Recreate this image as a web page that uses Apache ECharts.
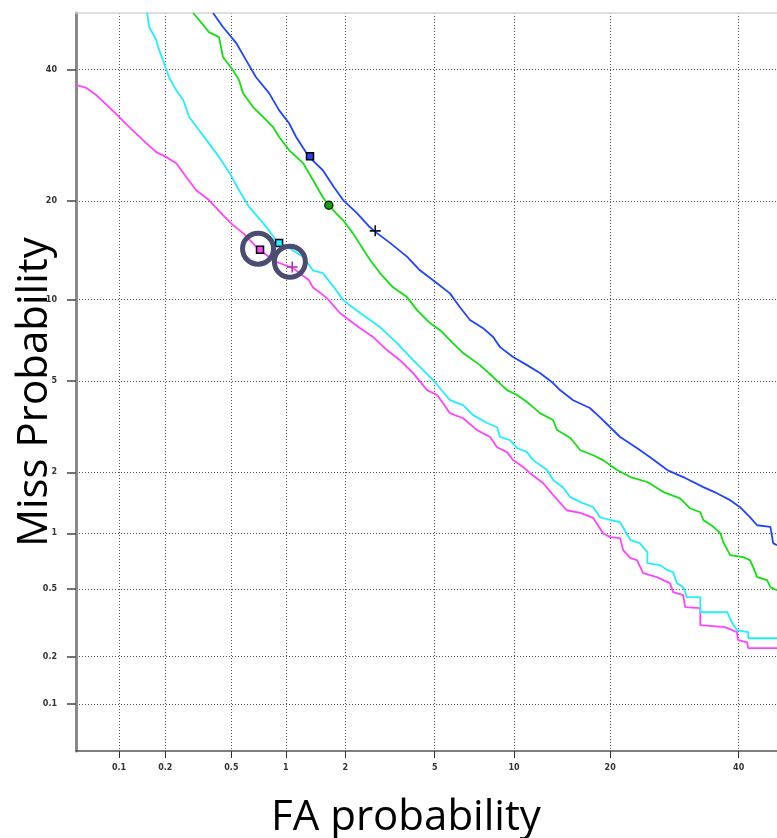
<!DOCTYPE html>
<html><head><meta charset="utf-8">
<script src="https://cdn.jsdelivr.net/npm/echarts@6/dist/echarts.min.js"></script>
<style>html,body{margin:0;padding:0;background:#fff}#c{width:777px;height:838px}</style>
</head><body><div id="c"></div>
<script>
// Tick labels (percent)
const xTicks = [0.1, 0.2, 0.5, 1, 2, 5, 10, 20, 40];
const yTicks = [0.1, 0.2, 0.5, 1, 2, 5, 10, 20, 40];
const xRangePct = [0.0506, 46.9];
const yRangePct = [0.0484, 50];

// Curves: [FA %, Miss %]
const magentaCurve = [[0.0506,37.4],[0.0596,36.9],[0.0699,35.7],[0.0857,33.7],[0.100,32.1],[0.117,30.5],[0.144,28.5],[0.175,26.7],[0.202,26.0],[0.234,25.1],[0.269,23.2],[0.310,21.4],[0.370,20.15],[0.447,18.3],[0.511,17.15],[0.583,16.25],[0.716,14.5],[0.887,13.3],[1.09,12.7],[1.32,11.6],[1.38,11.0],[1.63,10.1],[1.88,8.99],[2.35,7.94],[2.70,7.37],[3.12,6.59],[3.56,6.03],[4.06,5.37],[4.65,4.59],[5.11,4.38],[5.40,4.06],[5.76,3.68],[6.49,3.50],[7.34,3.11],[8.21,2.90],[8.70,2.61],[9.45,2.48],[9.92,2.28],[10.74,2.12],[11.35,1.98],[12.53,1.78],[13.50,1.56],[14.9,1.31],[16.4,1.27],[17.9,1.20],[19.1,1.00],[20.0,0.955],[21.3,0.944],[21.7,0.816],[22.7,0.740],[23.6,0.722],[24.5,0.613],[26.5,0.583],[28.5,0.540],[29.0,0.481],[30.6,0.462],[30.9,0.395],[33.4,0.390],[33.4,0.310],[37.6,0.302],[39.7,0.282],[39.9,0.252],[41.5,0.245],[41.7,0.226],[46.9,0.226]];
const cyanCurve = [[0.153,50.0],[0.158,47.5],[0.175,45.2],[0.183,43.4],[0.196,41.2],[0.211,38.7],[0.234,36.5],[0.258,34.9],[0.281,32.1],[0.323,30.0],[0.370,28.0],[0.424,26.0],[0.486,23.8],[0.553,21.4],[0.630,19.3],[0.753,17.4],[0.887,15.5],[1.23,13.8],[1.38,12.5],[1.55,12.25],[1.76,11.0],[1.95,9.96],[2.35,8.99],[2.90,8.01],[3.46,7.00],[4.06,6.03],[4.93,5.04],[5.76,4.17],[6.49,3.98],[7.09,3.61],[8.00,3.34],[8.70,3.20],[8.92,2.90],[9.68,2.81],[10.24,2.59],[11.08,2.48],[11.61,2.28],[12.92,2.05],[13.50,1.84],[14.5,1.70],[15.3,1.52],[16.7,1.42],[17.9,1.36],[18.7,1.21],[20.0,1.17],[21.3,1.14],[22.7,0.921],[24.0,0.889],[25.1,0.797],[25.1,0.695],[27.0,0.678],[28.1,0.637],[29.0,0.621],[29.6,0.540],[30.6,0.513],[31.2,0.450],[33.4,0.450],[33.4,0.369],[38.0,0.369],[38.9,0.318],[39.7,0.290],[41.7,0.282],[41.7,0.259],[46.9,0.259]];
const greenCurve = [[0.297,50.0],[0.323,48.75],[0.370,46.6],[0.424,45.7],[0.447,42.2],[0.511,39.9],[0.553,38.2],[0.583,36.0],[0.663,33.7],[0.753,32.1],[0.854,30.5],[0.919,29.0],[1.04,27.0],[1.23,25.1],[1.38,22.8],[1.55,20.5],[1.66,19.5],[1.80,18.55],[1.95,17.7],[2.17,16.25],[2.61,13.5],[2.90,12.25],[3.32,11.0],[3.82,10.2],[4.22,9.2],[4.78,8.28],[5.26,7.81],[5.92,7.00],[6.49,6.42],[7.53,5.77],[8.42,5.18],[9.45,4.59],[10.24,4.38],[11.08,4.10],[11.61,3.90],[12.24,3.68],[13.50,3.44],[13.90,3.11],[15.3,2.87],[16.4,2.53],[17.9,2.40],[19.1,2.28],[20.9,2.05],[22.7,1.90],[25.1,1.80],[27.5,1.61],[30.1,1.50],[31.7,1.34],[33.4,1.28],[33.9,1.17],[35.6,1.08],[36.8,1.00],[37.3,0.900],[38.5,0.768],[40.8,0.749],[42.0,0.722],[42.6,0.661],[43.3,0.583],[45.1,0.561],[45.7,0.513],[46.9,0.493]];
const blueCurve = [[0.391,50.0],[0.447,47.5],[0.532,44.7],[0.605,41.7],[0.689,38.7],[0.813,36.0],[0.919,33.2],[1.04,31.1],[1.13,29.0],[1.32,26.0],[1.55,24.1],[1.76,21.8],[1.95,20.15],[2.27,18.55],[2.61,16.9],[2.81,16.25],[3.22,15.2],[3.82,13.8],[4.34,12.5],[5.11,11.35],[5.76,10.5],[6.31,9.42],[6.90,8.49],[7.73,7.94],[8.42,7.37],[8.92,6.76],[9.92,6.20],[11.08,5.77],[12.24,5.37],[13.50,4.90],[14.2,4.59],[15.6,4.17],[17.5,3.87],[18.7,3.54],[20.0,3.20],[21.3,2.90],[23.6,2.59],[25.5,2.35],[28.1,2.05],[30.6,1.90],[33.9,1.70],[36.2,1.59],[38.5,1.47],[40.2,1.36],[42.0,1.21],[43.3,1.10],[45.7,1.08],[46.2,0.889],[46.9,0.867]];

// Operating-point markers [FA %, Miss %]
const blueSquare = [[1.335, 26.1]];
const greenDot = [[1.66, 19.5]];
const blackPlus = [[2.76, 16.5]];
const cyanSquare = [[0.92, 15.2]];
const magentaSquare = [[0.725, 14.5]];
const magentaPlus = [[1.08, 12.8]];
const rings = [[0.707, 14.6], [1.05, 13.3]];

function probit(p) {
  const a=[-3.969683028665376e+01,2.209460984245205e+02,-2.759285104469687e+02,1.383577518672690e+02,-3.066479806614716e+01,2.506628277459239e+00];
  const b=[-5.447609879822406e+01,1.615858368580409e+02,-1.556989798598866e+02,6.680131188771972e+01,-1.328068155288572e+01];
  const c=[-7.784894002430293e-03,-3.223964580411365e-01,-2.400758277161838e+00,-2.549732539343734e+00,4.374664141464968e+00,2.938163982698783e+00];
  const d=[7.784695709041462e-03,3.224671290700398e-01,2.445134137142996e+00,3.754408661907416e+00];
  const pl=0.02425, ph=1-pl;
  let q,r;
  if (p<pl){ q=Math.sqrt(-2*Math.log(p)); return (((((c[0]*q+c[1])*q+c[2])*q+c[3])*q+c[4])*q+c[5])/((((d[0]*q+d[1])*q+d[2])*q+d[3])*q+1); }
  if (p<=ph){ q=p-0.5; r=q*q; return (((((a[0]*r+a[1])*r+a[2])*r+a[3])*r+a[4])*r+a[5])*q/(((((b[0]*r+b[1])*r+b[2])*r+b[3])*r+b[4])*r+1); }
  q=Math.sqrt(-2*Math.log(1-p)); return -(((((c[0]*q+c[1])*q+c[2])*q+c[3])*q+c[4])*q+c[5])/((((d[0]*q+d[1])*q+d[2])*q+d[3])*q+1);
}
const tr = arr => arr.map(([fa, miss]) => [probit(fa/100), probit(miss/100)]);
const xTickZ = xTicks.map(t => probit(t/100));
const yTickZ = yTicks.map(t => probit(t/100));
function labelFor(ticks, zs) {
  return v => { let bi=0, bd=1e9; zs.forEach((z,i)=>{const dd=Math.abs(z-v); if(dd<bd){bd=dd;bi=i;}}); return String(ticks[bi]); };
}
const labelStyle = {fontSize: 8, fontFamily: 'DejaVu Sans', color: '#333', fontWeight: 'bold'};
const gridLine = {show: true, lineStyle: {color: '#555', width: 1, type: [1, 2]}};
const plusPath = 'path://M4.3,0H5.7V4.3H10V5.7H5.7V10H4.3V5.7H0V4.3H4.3Z';

const chart = echarts.init(document.getElementById('c'), null, {renderer: 'canvas'});
chart.setOption({
  animation: false,
  backgroundColor: '#fff',
  grid: {left: 76, right: 0, top: 13, bottom: 87, containLabel: false},
  xAxis: [{
    type: 'value', min: probit(xRangePct[0]/100), max: probit(xRangePct[1]/100),
    axisLine: {show: true, onZero: false, lineStyle: {color: '#555', width: 1.5}},
    axisTick: {show: true, length: 7, customValues: xTickZ, lineStyle: {color: '#333', width: 1}},
    axisLabel: {show: true, customValues: xTickZ, margin: 13, formatter: labelFor(xTicks, xTickZ), ...labelStyle},
    splitLine: gridLine
  }, {
    type: 'value', position: 'top', min: probit(xRangePct[0]/100), max: probit(xRangePct[1]/100),
    axisLine: {show: true, onZero: false, lineStyle: {color: '#d4d4d4', width: 1.5}},
    axisTick: {show: false}, axisLabel: {show: false}, splitLine: {show: false}
  }],
  yAxis: {
    type: 'value', min: probit(yRangePct[0]/100), max: probit(yRangePct[1]/100),
    axisLine: {show: true, onZero: false, lineStyle: {color: '#8a8a8a', width: 3}},
    axisTick: {show: true, length: 9, customValues: yTickZ, lineStyle: {color: '#444', width: 1.5}},
    axisLabel: {show: true, customValues: yTickZ, margin: 19, formatter: labelFor(yTicks, yTickZ), ...labelStyle},
    splitLine: gridLine
  },
  series: [
    {type: 'line', data: tr(magentaCurve), symbol: 'none', lineStyle: {color: '#ff44ff', width: 1.8}, z: 3},
    {type: 'line', data: tr(cyanCurve), symbol: 'none', lineStyle: {color: '#22eeff', width: 1.8}, z: 3},
    {type: 'line', data: tr(greenCurve), symbol: 'none', lineStyle: {color: '#11e011', width: 1.8}, z: 3},
    {type: 'line', data: tr(blueCurve), symbol: 'none', lineStyle: {color: '#1f45ff', width: 1.8}, z: 3},
    {type: 'scatter', data: tr(blueSquare), symbol: 'rect', symbolSize: 7, itemStyle: {color: '#1f45ff', borderColor: '#000', borderWidth: 1.5, opacity: 1}, z: 5},
    {type: 'scatter', data: tr(greenDot), symbol: 'circle', symbolSize: 8, itemStyle: {color: '#1a9a1a', borderColor: '#0a300a', borderWidth: 1.5, opacity: 1}, z: 5},
    {type: 'scatter', data: tr(blackPlus), symbol: plusPath, symbolSize: 11, itemStyle: {color: '#111', opacity: 1}, z: 5},
    {type: 'scatter', data: tr(cyanSquare), symbol: 'rect', symbolSize: 7, itemStyle: {color: '#22eeff', borderColor: '#000', borderWidth: 1.5, opacity: 1}, z: 5},
    {type: 'scatter', data: tr(magentaSquare), symbol: 'rect', symbolSize: 7, itemStyle: {color: '#ff44ff', borderColor: '#000', borderWidth: 1.5, opacity: 1}, z: 5},
    {type: 'scatter', data: tr(magentaPlus), symbol: plusPath, symbolSize: 11, itemStyle: {color: '#b030b0', opacity: 1}, z: 5},
    {type: 'scatter', data: tr(rings), symbol: 'circle', symbolSize: 31, itemStyle: {color: 'rgba(0,0,0,0)', borderColor: '#4b4c72', borderWidth: 5, opacity: 1}, z: 6}
  ],
  graphic: [
    {type: 'text', x: 35, y: 392, rotation: Math.PI/2, z: 10,
     style: {text: 'Miss Probability', font: '42px "Open Sans"', fill: '#000', align: 'center', verticalAlign: 'middle', textAlign: 'center', textVerticalAlign: 'middle'}},
    {type: 'text', x: 406, y: 818, z: 10,
     style: {text: 'FA probability', font: '42px "Open Sans"', fill: '#000', align: 'center', verticalAlign: 'middle', textAlign: 'center', textVerticalAlign: 'middle'}}
  ]
});
</script></body></html>
